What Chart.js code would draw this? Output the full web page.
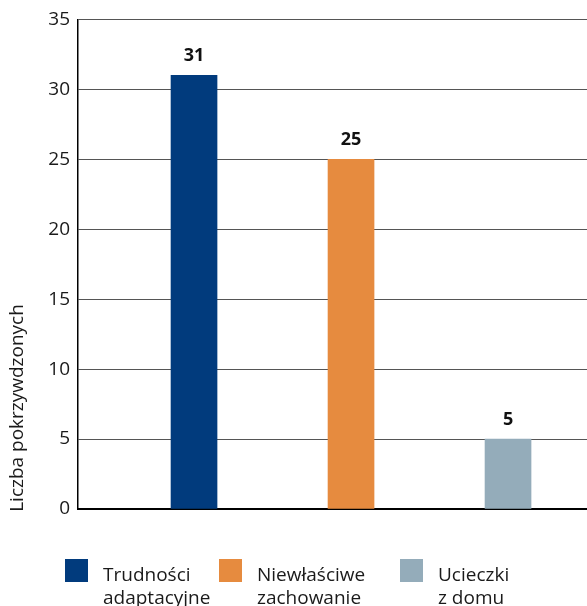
<!DOCTYPE html>
<html>
<head>
<meta charset="utf-8">
<script src="https://cdn.jsdelivr.net/npm/chart.js@4/dist/chart.umd.min.js"></script>
<style>
  body { margin: 0; background: #fff; }
</style>
</head>
<body>
<canvas id="chart" width="587" height="606"></canvas>
<script>
// data
const categories = [['Trudności', 'adaptacyjne'], ['Niewłaściwe', 'zachowanie'], ['Ucieczki', 'z domu']];
const values = [31, 25, 5];
const colors = ['#013b7d', '#e68b3f', '#94acba'];
const yTicks = [0, 5, 10, 15, 20, 25, 30, 35];
const yTitle = 'Liczba pokrzywdzonych';

const FONT = '"Open Sans", "Noto Sans", sans-serif';
const legendX = [65, 219, 400];

// value labels over the bars
const valueLabels = {
    id: 'valueLabels',
    afterDatasetsDraw(chart) {
        const ctx = chart.ctx;
        const meta = chart.getDatasetMeta(0);
        ctx.save();
        ctx.font = 'bold 18px ' + FONT;
        ctx.fillStyle = '#111';
        ctx.textAlign = 'center';
        ctx.textBaseline = 'alphabetic';
        meta.data.forEach((bar, i) => {
            ctx.fillText(String(values[i]), bar.x, bar.y - 14);
        });
        ctx.restore();
    }
};

// y title + legend with two-line labels
const extras = {
    id: 'extras',
    afterDraw(chart) {
        const ctx = chart.ctx;
        ctx.save();
        ctx.fillStyle = '#1a1a1a';
        ctx.font = '19px ' + FONT;
        ctx.translate(23, 408);
        ctx.rotate(-Math.PI / 2);
        ctx.textAlign = 'center';
        ctx.textBaseline = 'alphabetic';
        ctx.fillText(yTitle, 0, 0);
        ctx.restore();

        ctx.save();
        ctx.font = '19px ' + FONT;
        ctx.textAlign = 'left';
        ctx.textBaseline = 'alphabetic';
        categories.forEach((lines, i) => {
            const x = legendX[i];
            ctx.fillStyle = colors[i];
            ctx.fillRect(x, 559, 23, 23);
            ctx.fillStyle = '#1a1a1a';
            lines.forEach((line, j) => {
                ctx.fillText(line, x + 38, 581 + j * 23);
            });
        });
        ctx.restore();
    }
};

new Chart(document.getElementById('chart'), {
    type: 'bar',
    data: {
        datasets: [{
            data: values.map((v, i) => ({ x: i + 1, y: v })),
            backgroundColor: colors,
            barThickness: 46,
            borderWidth: 0
        }]
    },
    options: {
        responsive: false,
        animation: false,
        layout: { padding: { top: 18, right: 0, bottom: 0, left: 0 } },
        scales: {
            x: {
                type: 'linear',
                min: 0.261,
                max: 3.503,
                offset: false,
                grid: { display: false },
                ticks: { display: false },
                border: { display: true, color: '#000', width: 2 },
                afterFit(scale) { scale.height = 97; }
            },
            y: {
                min: 0,
                max: 35,
                afterBuildTicks(scale) { scale.ticks = yTicks.map(v => ({ value: v })); },
                grid: { color: '#555', lineWidth: 1, drawTicks: false },
                border: { display: true, color: '#000', width: 1.5 },
                ticks: {
                    padding: 8,
                    color: '#1a1a1a',
                    font: { family: FONT, size: 19 }
                },
                afterFit(scale) { scale.width = 78; }
            }
        },
        plugins: {
            legend: { display: false },
            tooltip: { enabled: false }
        }
    },
    plugins: [valueLabels, extras]
});
</script>
</body>
</html>
